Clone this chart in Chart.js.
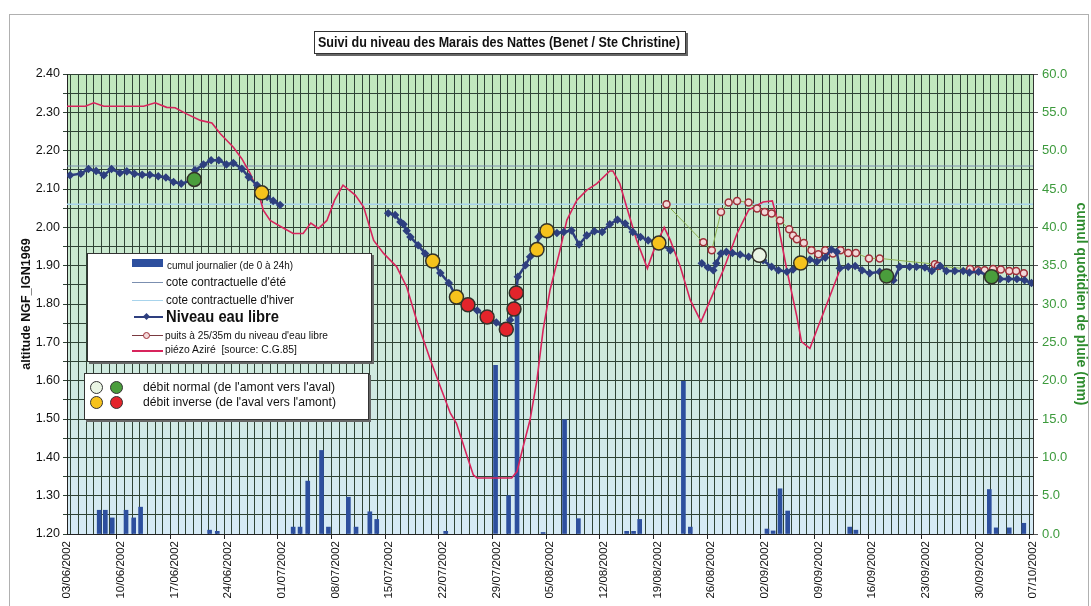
<!DOCTYPE html>
<html>
<head>
<meta charset="utf-8">
<script src="https://cdn.jsdelivr.net/npm/chart.js@4.4.1/dist/chart.umd.min.js"></script>
<style>
body { margin: 0; background: #fff; font-family: "Liberation Sans", Arial, sans-serif; }
#wrap { position: relative; width: 1091px; height: 606px; overflow: hidden; }
#frame { position: absolute; left: 9px; top: 14px; width: 1078px; height: 620px; border: 1px solid #b0b0b0; }
canvas { position: absolute; left: 0; top: 0; }
.box { position: absolute; background: #fff; border: 1px solid #333; box-shadow: 2px 2px 0 #666; }
.txt { position: absolute; white-space: pre; color: #111; transform-origin: left center; }
.ln { position: absolute; height: 0; }
.dot { position: absolute; border-radius: 50%; box-sizing: border-box; }
</style>
</head>
<body>
<div id="wrap">
  <div id="frame"></div>
  <canvas id="chart" width="1091" height="606"></canvas>

  <div class="box" style="left:314px;top:31px;width:370px;height:21px;"></div>
  <span class="txt" data-w="362" style="left:318px;top:33px;font-size:15px;line-height:18px;font-weight:bold;">Suivi du niveau des Marais des Nattes (Benet / Ste Christine)</span>

  <div class="box" style="left:87px;top:253px;width:283px;height:107px;"></div>
  <div style="position:absolute;left:132px;top:259px;width:31px;height:8px;background:#2d4f9e;"></div>
  <span class="txt" data-w="126" style="left:167px;top:258px;font-size:10.5px;line-height:14px;">cumul journalier (de 0 à 24h)</span>
  <div class="ln" style="left:132px;top:282px;width:31px;border-top:1px solid #7b8fb0;"></div>
  <span class="txt" data-w="120" style="left:166px;top:275px;font-size:12px;line-height:15px;">cote contractuelle d'été</span>
  <div class="ln" style="left:132px;top:300px;width:31px;border-top:1px solid #a8d4ec;"></div>
  <span class="txt" data-w="128" style="left:166px;top:293px;font-size:12px;line-height:15px;">cote contractuelle d'hiver</span>
  <div class="ln" style="left:134px;top:316px;width:29px;border-top:2px solid #2e3f7f;"></div>
  <div style="position:absolute;left:144px;top:314px;width:5px;height:5px;background:#2e3f7f;transform:rotate(45deg);"></div>
  <span class="txt" data-w="113" style="left:166px;top:307px;font-size:16px;line-height:20px;font-weight:bold;">Niveau eau libre</span>
  <div class="ln" style="left:132px;top:335px;width:31px;border-top:1px solid #7a3a40;"></div>
  <div class="dot" style="left:143px;top:332px;width:7px;height:7px;border:1.5px solid #a0303a;background:#f3dada;"></div>
  <span class="txt" data-w="163" style="left:165px;top:329px;font-size:10px;line-height:13px;">puits à 25/35m du niveau d'eau libre</span>
  <div class="ln" style="left:132px;top:350px;width:31px;border-top:2px solid #d8245c;"></div>
  <span class="txt" data-w="132" style="left:165px;top:343px;font-size:10px;line-height:13px;">piézo Aziré  [source: C.G.85]</span>

  <div class="box" style="left:84px;top:373px;width:283px;height:45px;"></div>
  <div class="dot" style="left:90px;top:381px;width:13px;height:13px;border:1.5px solid #333;background:#eaf5e4;"></div>
  <div class="dot" style="left:110px;top:381px;width:13px;height:13px;border:1.5px solid #333;background:#4a9d3c;"></div>
  <div class="dot" style="left:90px;top:396px;width:13px;height:13px;border:1.5px solid #333;background:#f6c21c;"></div>
  <div class="dot" style="left:110px;top:396px;width:13px;height:13px;border:1.5px solid #333;background:#e3242b;"></div>
  <span class="txt" data-w="192" style="left:143px;top:379px;font-size:13px;line-height:16px;">débit normal (de l'amont vers l'aval)</span>
  <span class="txt" data-w="193" style="left:143px;top:394px;font-size:13px;line-height:16px;">débit inverse (de l'aval vers l'amont)</span>
</div>

<script>
// jours depuis le 03/06/2002
const rainDays = [4.2, 5.0, 5.9, 7.7, 8.7, 9.6, 18.6, 19.6, 29.5, 30.4, 31.4, 33.2, 34.1, 36.7, 37.7, 39.5, 40.4,
    49.4, 55.9, 57.6, 58.7, 62.1, 64.9, 66.7, 73.0, 73.9, 74.7, 80.4, 81.3, 91.3, 92.1, 93.0, 94.0,
    102.1, 102.9, 120.3, 121.2, 122.9, 124.8];
const rainMm = [3.1, 3.1, 2.1, 3.1, 2.1, 3.5, 0.5, 0.35, 0.9, 0.9, 6.9, 10.9, 0.9, 4.8, 0.9, 2.9, 1.9,
    0.35, 22.0, 5.0, 30.0, 0.2, 14.9, 2.0, 0.35, 0.35, 1.9, 19.9, 0.9, 0.65, 0.4, 5.9, 3.0,
    0.9, 0.5, 5.8, 0.8, 0.8, 1.4];

const nivDays = [0.4, 1.8, 2.8, 3.8, 4.8, 5.8, 6.9, 7.8, 8.8, 9.8, 10.8, 11.9, 12.9, 13.9, 14.9, 16.6, 16.7,
    17.8, 18.8, 19.8, 20.8, 21.7, 22.8, 23.7, 24.8, 25.4, 26.1, 26.9, 27.8, 35,
    41.9, 42.8, 43.5, 43.9, 44.3, 44.8, 45.8, 46.7, 47.7, 48.7, 49.8, 50.8, 52.3, 53.5, 54.8, 56.0,
    57.3, 57.8, 58.3, 58.6, 58.8, 59.8, 60.4, 61.3, 61.5, 61.9, 62.6, 63.9, 64.8, 65.8, 66.8, 67.8,
    68.8, 69.8, 70.8, 71.8, 72.8, 73.8, 74.8, 75.8, 77.2, 78.7, 80,
    82.8, 83.6, 84.3, 84.7, 85.3, 86.0, 86.8, 87.8, 88.9, 90.3, 90.8, 91.9, 92.8, 93.9, 94.7, 95.7,
    96.9, 97.8, 98.9, 99.7, 100.4, 100.8, 101.9, 102.8, 103.7, 104.7, 106.0, 106.9, 107.8, 108.6,
    109.9, 110.8, 111.9, 112.8, 113.9, 114.7, 115.8, 116.9, 117.7, 118.9, 120.6, 121.7, 122.8,
    123.9, 124.9, 125.8];
const nivLevel = [2.136, 2.140, 2.152, 2.147, 2.136, 2.152, 2.142, 2.146, 2.140, 2.137, 2.137, 2.133, 2.130,
    2.118, 2.114, 2.125, 2.149, 2.164, 2.175, 2.175, 2.164, 2.168, 2.153, 2.131, 2.110, 2.090, 2.079,
    2.069, 2.058, null,
    2.037, 2.032, 2.014, 2.008, 1.991, 1.975, 1.953, 1.932, 1.912, 1.881, 1.855, 1.818, 1.798, 1.783,
    1.766, 1.752, 1.734, 1.758, 1.787, 1.829, 1.871, 1.901, 1.923, 1.942, 1.975, 1.984, 1.991, 1.985,
    1.988, 1.992, 1.955, 1.979, 1.990, 1.988, 2.008, 2.020, 2.010, 1.988, 1.975, 1.966, 1.959, 1.940, null,
    1.906, 1.895, 1.888, 1.906, 1.932, 1.936, 1.933, 1.929, 1.923, 1.927, 1.914, 1.897, 1.888, 1.884,
    1.890, 1.907, 1.916, 1.910, 1.921, 1.942, 1.936, 1.893, 1.897, 1.899, 1.888, 1.880, 1.884, 1.873,
    1.862, 1.897, 1.897, 1.897, 1.895, 1.886, 1.899, 1.886, 1.886, 1.886, 1.882, 1.884, 1.871, 1.865,
    1.865, 1.865, 1.862, 1.855];

const puitsDays = [78.2, 83.0, 84.1, 85.3, 86.3, 87.4, 88.9, 90.0, 91.0, 91.9, 93.0, 94.2, 94.7, 95.2, 96.1,
    97.1, 98.0, 98.9, 99.9, 100.9, 101.9, 102.9, 104.6, 106.0, 113.2, 113.6, 117.8, 118.8, 119.7,
    120.8, 121.8, 122.9, 123.8, 124.8];
const puitsLevel = [2.060, 1.961, 1.940, 2.040, 2.065, 2.069, 2.065, 2.049, 2.040, 2.036, 2.018, 1.995, 1.979,
    1.969, 1.959, 1.940, 1.930, 1.940, 1.932, 1.940, 1.933, 1.933, 1.919, 1.919, 1.904, 1.899, 1.891,
    1.888, 1.888, 1.891, 1.890, 1.886, 1.886, 1.880];

const piezoDays = [0, 2.4, 3.5, 4.8, 10.0, 11.5, 13.0, 14.1, 15.6, 17.4, 18.9, 20.0, 21.7, 22.8, 23.9, 25.0,
    25.6, 26.5, 27.8, 29.5, 30.8, 31.8, 32.8, 33.9, 34.9, 36.0, 37.6, 38.7, 40.0, 41.3, 43.0, 44.3,
    45.6, 47.4, 48.7, 50.0, 50.8, 52.2, 53.0, 53.5, 58.0, 58.7, 59.5, 60.4, 61.3, 62.1, 63.0, 64.3,
    65.2, 66.5, 67.8, 69.1, 70.8, 71.2, 72.1, 73.0, 74.3, 75.7, 76.7, 77.9, 78.7, 80.0, 81.3, 82.7,
    83.9, 85.6, 87.4, 88.9, 90.8, 92.0, 92.6, 93.9, 95.2, 95.8, 96.9, 97.8, 99.3, 100.8];
const piezoLevel = [2.316, 2.316, 2.325, 2.316, 2.316, 2.325, 2.313, 2.312, 2.296, 2.279, 2.272, 2.244, 2.209,
    2.179, 2.140, 2.088, 2.045, 2.018, 2.003, 1.984, 1.984, 2.011, 1.997, 2.018, 2.071, 2.110, 2.084,
    2.053, 1.966, 1.932, 1.897, 1.845, 1.758, 1.654, 1.584, 1.515, 1.489, 1.402, 1.354, 1.346, 1.346,
    1.363, 1.428, 1.498, 1.602, 1.732, 1.836, 1.940, 2.019, 2.071, 2.097, 2.114, 2.147, 2.147, 2.114,
    2.053, 1.966, 1.893, 1.949, 2.000, 1.966, 1.897, 1.810, 1.754, 1.810, 1.888, 1.984, 2.045, 2.066,
    2.069, 2.023, 1.888, 1.767, 1.702, 1.684, 1.732, 1.810, 1.888];

const coteEte = 2.16;
const coteHiver = 2.06;

// débit : [jour, niveau]
const normalPale = [[90.3, 1.927]];
const normalGreen = [[16.6, 2.125], [106.9, 1.873], [120.6, 1.871]];
const inverseYellow = [[25.4, 2.090], [47.7, 1.912], [50.8, 1.818], [61.3, 1.942], [62.6, 1.991], [77.2, 1.959], [95.7, 1.907]];
const inverseRed = [[52.3, 1.798], [54.8, 1.766], [57.3, 1.734], [58.3, 1.787], [58.6, 1.829]];

const lastDay = 126;

function dayLabel(d) {
    const dt = new Date(2002, 5, 3 + d);
    const dd = String(dt.getDate()).padStart(2, '0');
    const mm = String(dt.getMonth() + 1).padStart(2, '0');
    return dd + '/' + mm + '/' + dt.getFullYear();
}

function pairs(xs, ys) {
    return xs.map((x, i) => ({ x: x, y: ys[i] }));
}

function markers(list, color) {
    return {
        type: 'scatter',
        data: list.map(p => ({ x: p[0], y: p[1] })),
        yAxisID: 'y',
        pointRadius: 7,
        pointBackgroundColor: color,
        pointBorderColor: '#33332a',
        pointBorderWidth: 1.5,
        showLine: false,
        order: 0
    };
}

const bgPlugin = {
    id: 'bg',
    beforeDraw(chart) {
        const { ctx, chartArea: a } = chart;
        const g = ctx.createLinearGradient(0, a.top, 0, a.bottom);
        g.addColorStop(0, '#c1e8bd');
        g.addColorStop(0.5, '#cce9d5');
        g.addColorStop(1, '#d6eaf6');
        ctx.save();
        ctx.fillStyle = g;
        ctx.fillRect(a.left, a.top, a.width, a.height);
        ctx.restore();
    }
};

const gridColor = '#2f4335';

new Chart(document.getElementById('chart'), {
    type: 'line',
    data: {
        datasets: [
            markers(normalPale, '#eaf5e4'),
            markers(normalGreen, '#4a9d3c'),
            markers(inverseYellow, '#f6c21c'),
            markers(inverseRed, '#e3242b'),
            {
                data: pairs(nivDays, nivLevel),
                yAxisID: 'y',
                borderColor: '#2e3f7f',
                borderWidth: 2.5,
                pointStyle: 'rectRot',
                pointRadius: 2.5,
                pointBackgroundColor: '#2e3f7f',
                pointBorderColor: '#2e3f7f',
                spanGaps: false,
                order: 1
            },
            {
                data: pairs(puitsDays, puitsLevel),
                yAxisID: 'y',
                borderColor: '#8db050',
                borderWidth: 1,
                pointRadius: 3.5,
                pointBackgroundColor: '#f3dada',
                pointBorderColor: '#a0303a',
                pointBorderWidth: 1.5,
                order: 2
            },
            {
                data: pairs(piezoDays, piezoLevel),
                yAxisID: 'y',
                borderColor: '#d8245c',
                borderWidth: 1.6,
                pointRadius: 0,
                order: 3
            },
            {
                data: [{ x: 0, y: coteEte }, { x: lastDay, y: coteEte }],
                yAxisID: 'y',
                borderColor: '#7b8fb0',
                borderWidth: 1,
                pointRadius: 0,
                order: 4
            },
            {
                data: [{ x: 0, y: coteHiver }, { x: lastDay, y: coteHiver }],
                yAxisID: 'y',
                borderColor: '#a8d4ec',
                borderWidth: 1.5,
                pointRadius: 0,
                order: 4
            },
            {
                type: 'bar',
                data: pairs(rainDays, rainMm),
                yAxisID: 'y2',
                backgroundColor: '#2d4f9e',
                barThickness: 4,
                order: 5
            }
        ]
    },
    options: {
        responsive: false,
        animation: false,
        layout: { padding: { top: 74 } },
        plugins: {
            legend: { display: false },
            tooltip: { enabled: false },
            title: { display: false }
        },
        scales: {
            x: {
                type: 'linear',
                min: 0,
                max: lastDay,
                offset: false,
                ticks: {
                    stepSize: 1,
                    autoSkip: false,
                    maxRotation: 90,
                    minRotation: 90,
                    padding: 2,
                    color: '#111',
                    font: { family: 'Liberation Sans', size: 11.5 },
                    callback: v => (v % 7 === 0 ? dayLabel(v) : '')
                },
                grid: {
                    color: gridColor,
                    tickLength: 5,
                    tickColor: c => (c.tick && c.tick.value % 7 === 0 ? '#222' : 'rgba(0,0,0,0)')
                },
                border: { color: '#222' },
                afterFit: s => { s.height = 72; }
            },
            y: {
                position: 'left',
                min: 1.2,
                max: 2.4,
                ticks: {
                    stepSize: 0.05,
                    padding: 3,
                    color: '#111',
                    font: { family: 'Liberation Sans', size: 12.5 },
                    callback: v => (Math.abs(v * 10 - Math.round(v * 10)) < 1e-6 ? v.toFixed(2) : '')
                },
                grid: { color: gridColor, tickLength: 4 },
                border: { color: '#222' },
                title: {
                    display: true,
                    text: 'altitude NGF_IGN1969',
                    color: '#111',
                    font: { family: 'Liberation Sans', size: 12.5, weight: 'bold' },
                    padding: { top: 19, bottom: 0 }
                },
                afterFit: s => { s.width = 67; }
            },
            y2: {
                position: 'right',
                min: 0,
                max: 60,
                ticks: {
                    stepSize: 5,
                    padding: 4,
                    color: '#3c9a3c',
                    font: { family: 'Liberation Sans', size: 13 },
                    callback: v => v.toFixed(1)
                },
                grid: { drawOnChartArea: false, tickLength: 5, color: '#555' },
                border: { color: '#333' },
                title: {
                    display: true,
                    text: 'cumul quotidien de pluie (mm)',
                    color: '#2e8b2e',
                    font: { family: 'Liberation Sans', size: 14, weight: 'bold' },
                    padding: { top: 2, bottom: 1 }
                },
                afterFit: s => { s.width = 58; }
            }
        }
    },
    plugins: [bgPlugin]
});

// textes en police étroite : on ajuste la largeur
document.querySelectorAll('.txt').forEach(el => {
    const w = parseFloat(el.getAttribute('data-w'));
    const r = w / el.getBoundingClientRect().width;
    el.style.transform = 'scaleX(' + r + ')';
});
</script>
</body>
</html>
